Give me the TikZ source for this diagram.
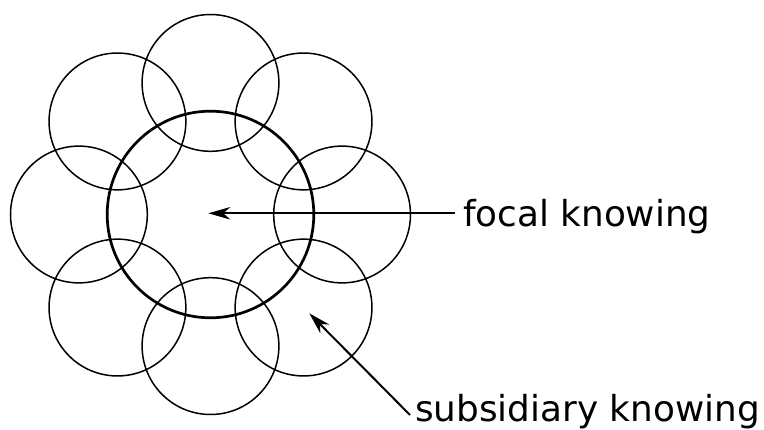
\documentclass[tikz,border=0pt]{standalone}
\usepackage{fontspec}
\setmainfont{DejaVu Sans}
\usetikzlibrary{arrows.meta,calc}
\begin{document}
\begin{tikzpicture}[x=1pt,y=-1pt,
  smallc/.style={draw, circle, line width=1.5pt, minimum size=136.8pt, inner sep=0pt},
  bigc/.style={draw, circle, line width=2.7pt, minimum size=206.6pt, inner sep=0pt},
  lbl/.style={inner sep=0pt, anchor=base west, font=\fontsize{35.8}{40}\selectfont},
  pointer/.style={line width=2pt, -{Stealth[length=22pt,width=12.5pt,inset=7pt]}}]
\fill[white] (0,0) rectangle (764,430);
\useasboundingbox (0,0) rectangle (764,430);
\coordinate (ctr) at (210.5,214.5);
\foreach \a [count=\i] in {0,45,90,135,180,225,270,315}{
  \node[smallc] (s\i) at ($(ctr)+(\a:131.6)$) {};
}
\node[bigc] (big) at (ctr) {};
\node[lbl] (focal) at (463,226.5) {focal knowing};
\node[lbl] (subs) at (415,421.5) {subsidiary knowing};
\coordinate (ftail) at (455,213.3);
\coordinate (ftip) at (208.3,213.3);
\coordinate (stail) at (410,415);
\coordinate (stip) at (309.3,313.3);
\draw[pointer] (ftail) -- (ftip);
\draw[pointer] (stail) -- (stip);
\end{tikzpicture}
\end{document}
